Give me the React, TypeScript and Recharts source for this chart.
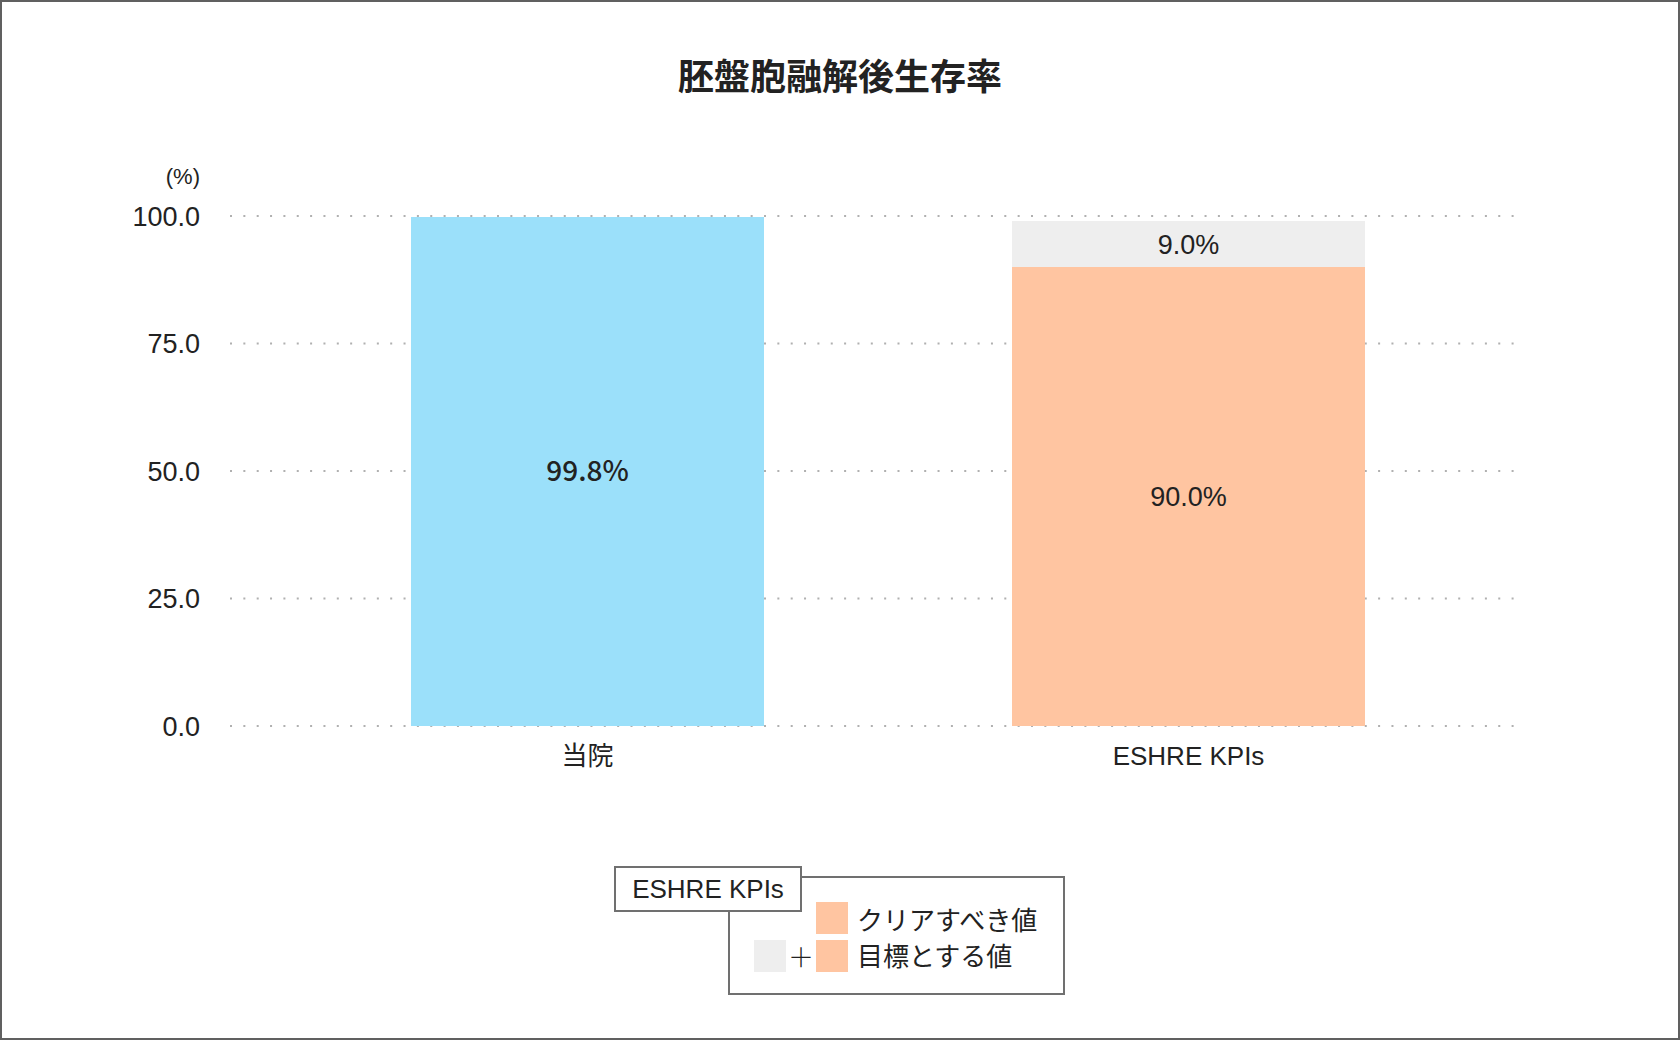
import React from 'react';
import { BarChart, Bar, XAxis, YAxis, CartesianGrid, LabelList } from 'recharts';

const categories: string[] = ['当院', 'ESHRE KPIs'];
const hospitalValues: (number | null)[] = [99.8, null];
const targetValues: (number | null)[] = [null, 90.0];
const extraValues: (number | null)[] = [null, 9.0];
const yTicks: number[] = [0, 25, 50, 75, 100];

const title = '胚盤胞融解後生存率';
const unitLabel = '(%)';
const legendTitle = 'ESHRE KPIs';
const legendRow1 = 'クリアすべき値';
const legendRow2 = '目標とする値';

const BLUE = '#9be0fa';
const PEACH = '#ffc5a1';
const GRAY = '#eeeeee';
const TEXT = '#222222';
const FONT = '"Liberation Sans", "Noto Sans CJK JP", sans-serif';
const CJK = '"Noto Sans CJK JP", sans-serif';

const data = categories.map((c, i) => ({
  name: c,
  hospital: hospitalValues[i],
  target: targetValues[i],
  extra: extraValues[i],
}));

const fmt = (v: any) => (v === null || v === undefined ? '' : `${Number(v).toFixed(1)}%`);

const abs = (left: number, top: number, w: number, h: number): React.CSSProperties => ({
  position: 'absolute',
  left,
  top,
  width: w,
  height: h,
  boxSizing: 'border-box',
});

export default function App() {
  return (
    <div
      style={{
        position: 'absolute',
        left: 0,
        top: 0,
        width: 1680,
        height: 1040,
        background: '#fff',
        overflow: 'hidden',
        fontFamily: FONT,
      }}
    >
      <BarChart
        width={1680}
        height={1040}
        data={data}
        margin={{ top: 216, right: 166, bottom: 284, left: 130 }}
      >
        <CartesianGrid vertical={false} stroke="#b0b0b0" strokeWidth={2} strokeDasharray="2 11.35" />
        <XAxis
          dataKey="name"
          height={30}
          axisLine={false}
          tickLine={false}
          padding={{ left: 57, right: 25 }}
          tickMargin={15}
          tick={{ fontSize: 26, fill: TEXT, fontFamily: FONT }}
        />
        <YAxis
          width={100}
          domain={[0, 100]}
          ticks={yTicks}
          axisLine={false}
          tickLine={false}
          tickMargin={24}
          tickFormatter={(v: number) => v.toFixed(1)}
          tick={{ fontSize: 27, fill: TEXT, fontFamily: FONT }}
        />
        <Bar dataKey="hospital" stackId="a" fill={BLUE} barSize={353} isAnimationActive={false}>
          <LabelList
            dataKey="hospital"
            position="center"
            formatter={fmt}
            fill={TEXT}
            fontSize={28}
            fontWeight={500}
            fontFamily={CJK}
          />
        </Bar>
        <Bar dataKey="target" stackId="a" fill={PEACH} barSize={353} isAnimationActive={false}>
          <LabelList
            dataKey="target"
            position="center"
            formatter={fmt}
            fill={TEXT}
            fontSize={27}
            fontFamily={FONT}
          />
        </Bar>
        <Bar dataKey="extra" stackId="a" fill={GRAY} barSize={353} isAnimationActive={false}>
          <LabelList
            dataKey="extra"
            position="center"
            formatter={fmt}
            fill={TEXT}
            fontSize={27}
            fontFamily={FONT}
          />
        </Bar>
      </BarChart>

      {/* title */}
      <div
        style={{
          ...abs(0, 50, 1680, 48),
          textAlign: 'center',
          lineHeight: '48px',
          fontSize: 36,
          fontWeight: 700,
          color: TEXT,
          fontFamily: CJK,
        }}
      >
        {title}
      </div>

      {/* unit */}
      <div
        style={{
          ...abs(100, 163, 100, 28),
          textAlign: 'right',
          lineHeight: '28px',
          fontSize: 22,
          color: TEXT,
        }}
      >
        {unitLabel}
      </div>

      {/* legend main box */}
      <div style={{ ...abs(728, 876, 337, 119), border: '2px solid #707070', background: '#fff' }} />
      <div style={{ ...abs(816, 902, 32, 32), background: PEACH }} />
      <div style={{ ...abs(816, 940, 32, 32), background: PEACH }} />
      <div style={{ ...abs(754, 940, 32, 32), background: GRAY }} />
      <div
        style={{
          ...abs(786, 940, 30, 32),
          textAlign: 'center',
          lineHeight: '32px',
          fontSize: 26,
          fontWeight: 300,
          color: TEXT,
          fontFamily: CJK,
        }}
      >
        ＋
      </div>
      <div
        style={{
          ...abs(857, 902, 220, 34),
          lineHeight: '34px',
          fontSize: 26,
          color: TEXT,
          fontFamily: CJK,
          whiteSpace: 'nowrap',
        }}
      >
        {legendRow1}
      </div>
      <div
        style={{
          ...abs(857, 938, 220, 34),
          lineHeight: '34px',
          fontSize: 26,
          color: TEXT,
          fontFamily: CJK,
          whiteSpace: 'nowrap',
        }}
      >
        {legendRow2}
      </div>

      {/* legend title box */}
      <div
        style={{
          ...abs(614, 866, 188, 46),
          border: '2px solid #707070',
          background: '#fff',
          textAlign: 'center',
          lineHeight: '42px',
          fontSize: 26,
          color: TEXT,
          whiteSpace: 'nowrap',
        }}
      >
        {legendTitle}
      </div>

      {/* outer border */}
      <div style={{ ...abs(0, 0, 1680, 1040), border: '2px solid #606060', pointerEvents: 'none' }} />
    </div>
  );
}
